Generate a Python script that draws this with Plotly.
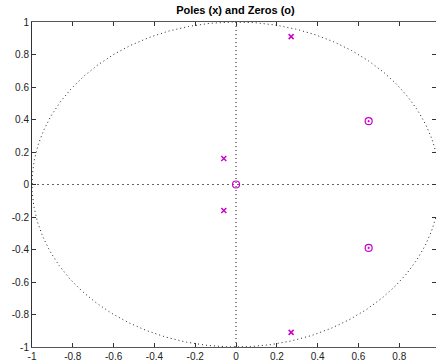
import numpy as np
import plotly.graph_objects as go

pole_re = [0.27, 0.27, -0.06, -0.06]
pole_im = [0.91, -0.91, 0.16, -0.16]
zero_re = [0.0, 0.65, 0.65]
zero_im = [0.0, 0.39, -0.39]
zero_sym = ["circle-open", "circle-open-dot", "circle-open-dot"]
xticks = [-1, -0.8, -0.6, -0.4, -0.2, 0, 0.2, 0.4, 0.6, 0.8]
yticks = [-1, -0.8, -0.6, -0.4, -0.2, 0, 0.2, 0.4, 0.6, 0.8, 1]

mag = "#cc00cc"
theta = np.linspace(0, 2 * np.pi, 721)

fig = go.Figure()
fig.add_trace(go.Scatter(x=np.cos(theta), y=np.sin(theta), mode="lines",
                         line=dict(color="#222", width=1, dash="1px,3px"), hoverinfo="skip"))
fig.add_trace(go.Scatter(x=[-1, 1], y=[0, 0], mode="lines",
                         line=dict(color="#666", width=1, dash="2px,3px"), hoverinfo="skip"))
fig.add_trace(go.Scatter(x=[0, 0], y=[-1, 1], mode="lines",
                         line=dict(color="#111", width=1, dash="1px,3px"), hoverinfo="skip"))
fig.add_trace(go.Scatter(x=pole_re, y=pole_im, mode="markers",
                         marker=dict(symbol="x-thin-open", size=5, color=mag,
                                     line=dict(color=mag, width=1.5))))
fig.add_trace(go.Scatter(x=zero_re, y=zero_im, mode="markers",
                         marker=dict(symbol=zero_sym, size=7, color=mag,
                                     line=dict(color=mag, width=1.2))))

axis_common = dict(showgrid=False, zeroline=False, showline=True, linewidth=1,
                   ticks="inside", ticklen=4, tickwidth=1, mirror="ticks",
                   tickfont=dict(family="Liberation Sans, Arial", size=10, color="#222"))
fig.update_xaxes(range=[-1, 0.98], tickvals=xticks,
                 ticktext=[("%g" % v) for v in xticks], linecolor="#555",
                 tickcolor="#333", **axis_common)
fig.update_yaxes(range=[-1, 1], tickvals=yticks,
                 ticktext=[("%g" % v) for v in yticks], linecolor="#333",
                 tickcolor="#333", **axis_common)

fig.update_layout(
    width=436, height=363,
    margin=dict(l=32, r=0, t=22, b=16),
    paper_bgcolor="white", plot_bgcolor="white",
    showlegend=False,
    title=dict(text="<b>Poles (x) and Zeros (o)</b>", x=0.54, xanchor="center",
               y=0.972, yanchor="middle",
               font=dict(family="Liberation Sans, Arial", size=11, color="black")),
)
fig.write_html("out.html")
